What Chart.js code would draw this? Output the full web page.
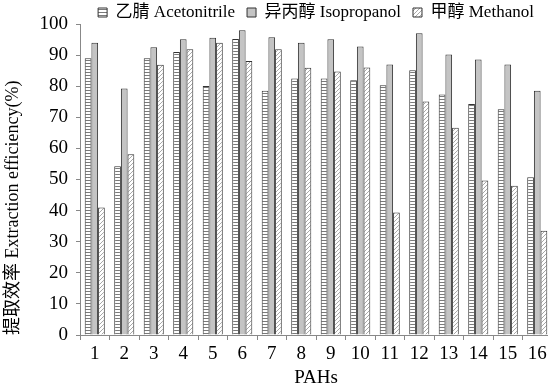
<!DOCTYPE html>
<html><head><meta charset="utf-8">
<script src="https://cdn.jsdelivr.net/npm/chart.js@4.4.1/dist/chart.umd.min.js"></script>
<style>
html,body{margin:0;padding:0;background:#fff;overflow:hidden;width:548px;height:389px}
#wrap{width:554px;height:389px}
</style></head>
<body><div id="wrap"><canvas id="c" width="554" height="389"></canvas></div>
<script>
const categories = ['1','2','3','4','5','6','7','8','9','10','11','12','13','14','15','16'];
const seriesNames = ['乙腈 Acetonitrile', '异丙醇 Isopropanol', '甲醇 Methanol'];
const acetonitrile = [89.0, 54.3, 89.0, 91.0, 80.1, 95.2, 78.5, 82.5, 82.5, 81.9, 80.3, 85.1, 77.3, 74.3, 72.6, 50.7];
const isopropanol  = [94.0, 79.3, 92.5, 95.1, 95.6, 98.0, 95.7, 94.0, 95.1, 92.8, 87.0, 97.0, 90.2, 88.6, 87.0, 78.5];
const methanol     = [41.0, 58.1, 86.9, 91.9, 94.0, 88.1, 91.9, 85.9, 84.7, 86.0, 39.4, 75.1, 66.6, 49.7, 48.0, 33.5];
const yTickValues  = [0, 10, 20, 30, 40, 50, 60, 70, 80, 90, 100];
const xTitle = 'PAHs';
const yTitle = '提取效率 Extraction efficiency(%)';

const FONT = '"Liberation Serif", "Times New Roman", "Noto Sans CJK SC", serif';

function makePattern(kind) {
  const p = document.createElement('canvas');
  const ctx = p.getContext('2d');
  if (kind === 'hstripe') {
    p.width = 4; p.height = 3;
    ctx.fillStyle = '#ffffff'; ctx.fillRect(0, 0, 4, 3);
    ctx.fillStyle = '#7a7a7a'; ctx.fillRect(0, 0, 4, 1);
  } else if (kind === 'diag') {
    p.width = 4; p.height = 4;
    ctx.fillStyle = '#ffffff'; ctx.fillRect(0, 0, 4, 4);
    ctx.fillStyle = '#a8a8a8';
    for (let i = 0; i < 4; i++) ctx.fillRect(3 - i, i, 1, 1);
  }
  return document.getElementById('c').getContext('2d').createPattern(p, 'repeat');
}

const fills = [makePattern('hstripe'), '#c4c4c4', makePattern('diag')];
const seriesData = [acetonitrile, isopropanol, methanol];

new Chart(document.getElementById('c'), {
  type: 'bar',
  data: {
    labels: categories,
    datasets: seriesNames.map((name, i) => ({
      label: name,
      data: seriesData[i],
      backgroundColor: fills[i],
      borderColor: '#333333',
      borderWidth: 1,
      categoryPercentage: 0.68,
      barPercentage: 1.0
    }))
  },
  options: {
    responsive: false,
    animation: false,
    devicePixelRatio: 1,
    layout: { padding: { top: -8, left: 0, right: 2, bottom: 0 } },
    plugins: {
      tooltip: { enabled: false },
      legend: {
        display: true,
        position: 'top',
        fullSize: false,
        maxHeight: 32,
        labels: {
          font: { family: FONT, size: 17 },
          color: '#000',
          boxWidth: 9,
          boxHeight: 9,
          padding: 12
        }
      }
    },
    scales: {
      x: {
        grid: { display: true, drawOnChartArea: false, drawTicks: true, tickLength: 5, color: '#888', offset: true },
        border: { display: true, color: '#888', width: 1 },
        ticks: { font: { family: FONT, size: 19 }, color: '#000', padding: 3, maxRotation: 0, autoSkip: false },
        title: { display: true, text: xTitle, font: { family: FONT, size: 19 }, color: '#000', padding: { top: 0, bottom: 0 } },
        afterFit: (s) => { s.height = 54; }
      },
      y: {
        min: 0, max: 100,
        afterBuildTicks: (s) => { s.ticks = yTickValues.map(v => ({ value: v })); },
        grid: { display: true, drawOnChartArea: false, drawTicks: true, tickLength: 4, color: '#888' },
        border: { display: true, color: '#888', width: 1 },
        ticks: { font: { family: FONT, size: 19 }, color: '#000', padding: 8 },
        title: { display: true, text: yTitle, align: 'start', font: { family: FONT, size: 18 }, color: '#000', padding: { top: 2, bottom: 0 } },
        afterFit: (s) => { s.width = 80; }
      }
    }
  }
});
</script>
</body></html>
